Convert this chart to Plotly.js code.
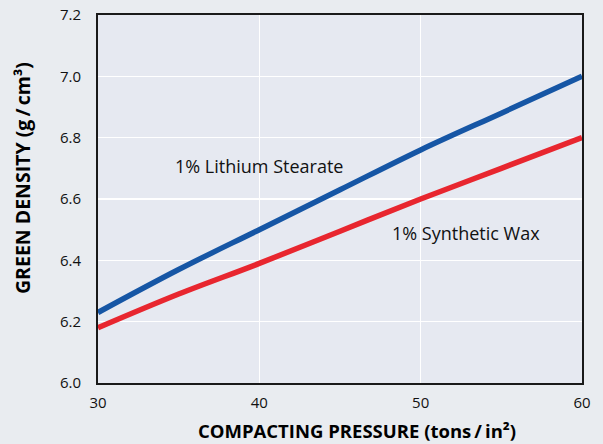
<!DOCTYPE html>
<html>
<head>
<meta charset="utf-8">
<script src="https://cdn.plot.ly/plotly-3.0.1.min.js"></script>
<style>html,body{margin:0;padding:0;background:#e9ecf0;}#chart{width:603px;height:444px;}</style>
</head>
<body>
<div id="chart"></div>
<script>
const pressure = [30, 35, 40, 45, 50, 55, 60];
const lithiumStearate = [6.23, 6.37, 6.50, 6.63, 6.76, 6.88, 7.00];
const syntheticWax = [6.18, 6.29, 6.39, 6.495, 6.60, 6.70, 6.80];
const xTicks = [30, 40, 50, 60];
const yTicks = [6.0, 6.2, 6.4, 6.6, 6.8, 7.0, 7.2];
const yTickText = ['6.0', '6.2', '6.4', '6.6', '6.8', '7.0', '7.2'];
const xTitle = 'COMPACTING PRESSURE (tons\u2009/\u2009in²)';
const yTitle = 'GREEN DENSITY (g\u2009/\u2009cm³)';

const font = 'Open Sans, Noto Sans, sans-serif';
const traces = [
  {x: pressure, y: lithiumStearate, mode: 'lines', line: {color: '#1656a5', width: 5.5, shape: 'spline'}, name: '1% Lithium Stearate'},
  {x: pressure, y: syntheticWax, mode: 'lines', line: {color: '#e8262f', width: 5.5, shape: 'spline'}, name: '1% Synthetic Wax'}
];
const layout = {
  width: 603, height: 444,
  margin: {l: 98, r: 21, t: 15, b: 61},
  paper_bgcolor: '#e9ecf0',
  plot_bgcolor: '#e6e9f1',
  showlegend: false,
  font: {family: font, color: '#111', size: 15},
  xaxis: {
    range: [30, 60], tickvals: xTicks, ticks: '', showgrid: true, gridcolor: '#ffffff', gridwidth: 1.5,
    zeroline: false, showline: true, linecolor: '#1a1a1a', linewidth: 2, mirror: true,
    tickfont: {family: font, size: 15, color: '#111'}, ticklabelstandoff: 5
  },
  yaxis: {
    range: [6.0, 7.2], tickvals: yTicks, ticktext: yTickText, ticks: '', showgrid: true, gridcolor: '#ffffff', gridwidth: 1.5,
    zeroline: false, showline: true, linecolor: '#1a1a1a', linewidth: 2, mirror: true,
    tickfont: {family: font, size: 15, color: '#111'}, ticklabelstandoff: 12
  },
  annotations: [
    {x: 40.0, y: 6.708, xref: 'x', yref: 'y', text: '1% Lithium Stearate', showarrow: false, font: {family: font, size: 18, color: '#111'}},
    {x: 52.78, y: 6.49, xref: 'x', yref: 'y', text: '1% Synthetic Wax', showarrow: false, font: {family: font, size: 18, color: '#111'}},
    {x: 0.536, y: -0.1304, xref: 'paper', yref: 'paper', xanchor: 'center', yanchor: 'middle', borderpad: 0, text: '<b>' + xTitle + '</b>', showarrow: false, font: {family: font, size: 18.5, color: '#000'}},
    {x: -0.157, y: 0.557, xref: 'paper', yref: 'paper', xanchor: 'center', yanchor: 'middle', borderpad: 0, textangle: -90, text: '<b>' + yTitle + '</b>', showarrow: false, font: {family: font, size: 19.5, color: '#000'}}
  ]
};
Plotly.newPlot('chart', traces, layout, {displayModeBar: false, staticPlot: true});
</script>
</body>
</html>
